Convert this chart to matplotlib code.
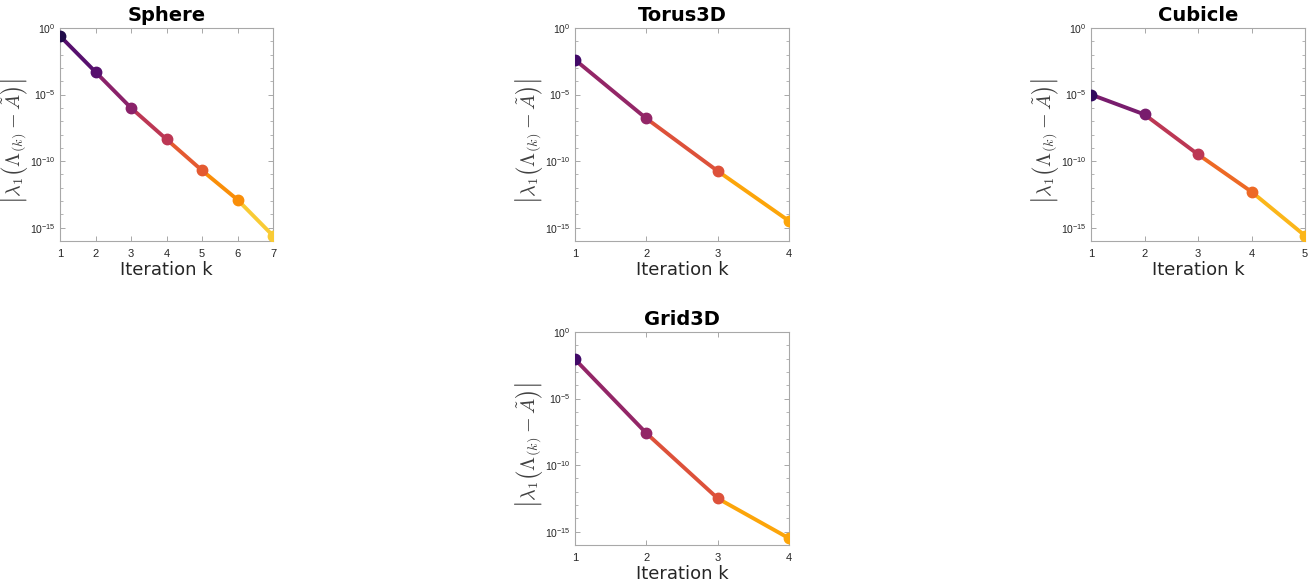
import numpy as np
import matplotlib
matplotlib.use("Agg")
import matplotlib.pyplot as plt
from matplotlib.ticker import FixedLocator, NullFormatter, LogFormatterSciNotation

plt.rcParams['font.family'] = ['Liberation Sans', 'DejaVu Sans']
plt.rcParams['mathtext.fontset'] = 'cm'

# ---- data ----
titles = ["Sphere", "Torus3D", "Cubicle", "Grid3D"]
sphere_vals = [0.25, 5.0e-4, 1.0e-6, 4.4e-9, 2.0e-11, 1.26e-13, 2.5e-16]
torus_vals = [4.1e-3, 1.6e-7, 1.8e-11, 3.2e-15]
cubicle_vals = [1.0e-5, 3.2e-7, 3.2e-10, 5.0e-13, 2.5e-16]
grid_vals = [8.9e-3, 2.5e-8, 3.2e-13, 3.2e-16]
series = [sphere_vals, torus_vals, cubicle_vals, grid_vals]
major_yticks = [1e-15, 1e-10, 1e-5, 1e0]

W, H = 1315, 587
fig = plt.figure(figsize=(W / 100, H / 100), dpi=100)

# axes boxes in pixels: left, top, right, bottom
boxes = [(60, 28, 273, 241), (575, 28, 789, 241), (1091, 28, 1305, 241), (575, 332, 789, 545)]

cmap = plt.get_cmap('inferno')
spine_col = '#a8a8a8'
text_col = '#262626'

for title, vals, (l, t, r, b) in zip(titles, series, boxes):
    ax = fig.add_axes([l / W, (H - b) / H, (r - l) / W, (b - t) / H])
    n = len(vals)
    k = np.arange(1, n + 1)
    cols = [cmap(i / (n + 1)) for i in range(1, n + 1)]
    for i in range(n - 1):
        ax.plot(k[i:i + 2], vals[i:i + 2], color=cols[i + 1], lw=2.8,
                solid_capstyle='butt', zorder=2)
    for i in range(n):
        ax.plot(k[i], vals[i], 'o', color=cols[i], ms=7.5, mec=cols[i], zorder=3)
    ax.set_yscale('log')
    ax.set_ylim(1e-16, 1)
    ax.set_xlim(1, n)
    ax.set_xticks(k)
    ax.yaxis.set_major_locator(FixedLocator(major_yticks))
    ax.yaxis.set_major_formatter(LogFormatterSciNotation())
    ax.yaxis.set_minor_locator(FixedLocator([10.0 ** e for e in range(-16, 1)]))
    ax.yaxis.set_minor_formatter(NullFormatter())
    ax.tick_params(which='both', direction='in', top=True, right=True,
                   color=spine_col, labelcolor=text_col, labelsize=8)
    ax.tick_params(axis='y', labelsize=7.5, pad=3)
    ax.tick_params(which='major', length=3.5, width=0.7)
    ax.tick_params(which='minor', length=2, width=0.6)
    ax.tick_params(axis='x', pad=6)
    for s in ax.spines.values():
        s.set_color(spine_col)
        s.set_linewidth(0.8)
    ax.set_title(title, fontsize=14, fontweight='bold', pad=5, color='black',
                 family='DejaVu Sans')
    ax.set_xlabel('Iteration k', fontsize=13, color=text_col, labelpad=1,
                  family='DejaVu Sans')
    ax.set_ylabel(r'$\left|\lambda_1\left(\Lambda_{(k)} - \tilde{A}\right)\right|$',
                  fontsize=14.5, color='#404040')
    ax.yaxis.set_label_coords(-0.14, 0.47)

fig.savefig('out.png', dpi=100)
